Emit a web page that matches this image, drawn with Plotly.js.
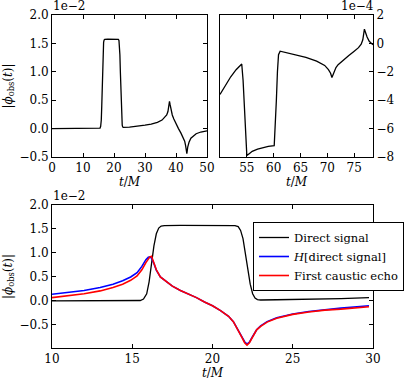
<!DOCTYPE html>
<html>
<head>
<meta charset="utf-8">
<script src="https://cdn.plot.ly/plotly-3.0.1.min.js"></script>
<style>
  html, body { margin: 0; padding: 0; background: #fff; }
  #chart { width: 415px; height: 381px; }
</style>
</head>
<body>
<div id="chart"></div>
<script>
// --- data (values in units of the axis multiplier) --------------------------

// top left: direct signal, 0 < t/M < 50, units 1e-2
const TL_T = [0, 5, 10, 15, 15.3, 15.5, 15.7, 15.9, 16.05, 16.2, 16.35, 16.5, 16.65, 16.8, 17, 18, 20, 21.4,
  21.6, 21.75, 21.9, 22.05, 22.2, 22.35, 22.5, 22.65, 22.8, 23, 25, 28, 30, 32, 34, 35.5, 36.5, 37.0, 37.4,
  37.7, 37.9, 38.1, 38.4, 38.8, 39.3, 40, 40.8, 41.6, 42.3, 42.8, 43.1, 43.3, 43.5, 43.8, 44.2, 44.8, 45.5,
  46.5, 48, 50];
const TL_V = [0, 0, 0, 0, 0, 0.01, 0.04, 0.15, 0.40, 0.78, 1.15, 1.40, 1.52, 1.56, 1.57, 1.575, 1.575, 1.57,
  1.55, 1.47, 1.3, 1.0, 0.65, 0.35, 0.15, 0.06, 0.03, 0.02, 0.025, 0.04, 0.06, 0.08, 0.11, 0.15, 0.2, 0.24, 0.3,
  0.38, 0.48, 0.42, 0.32, 0.24, 0.17, 0.08, 0.0, -0.08, -0.15, -0.22, -0.3, -0.38, -0.44, -0.32, -0.24, -0.17,
  -0.13, -0.09, -0.06, -0.04];

// top right: direct signal, 50 < t/M < 78.5, units 1e-4
const TR_T = [50, 51, 52, 53, 53.6, 54.05, 54.3, 54.6, 54.85, 55, 55.5, 56, 57, 58, 59, 60.1, 60.3, 60.5,
  60.7, 60.9, 61.2, 62, 64, 66, 68, 69.5, 70.2, 70.6, 70.85, 71.0, 71.2, 71.6, 72, 73, 74, 75, 75.8, 76.3,
  76.6, 76.9, 77.1, 77.4, 77.8, 78.5];
const TR_V = [-3.6, -2.95, -2.35, -1.85, -1.6, -1.45, -2.6, -5.0, -7.2, -7.9, -7.75, -7.6, -7.45, -7.35, -7.25,
  -7.2, -6.0, -4.0, -2.0, -0.8, -0.55, -0.62, -0.78, -0.98, -1.25, -1.55, -1.85, -2.1, -2.4, -2.25, -1.95,
  -1.7, -1.5, -1.15, -0.85, -0.55, -0.3, -0.05, 0.25, 1.0, 0.75, 0.45, 0.15, -0.1];

// left-hand tick marks of the top right panel (no labels there)
const TR_LEFT_TICKS = [1.07, -0.57, -2.27, -3.94, -5.57, -7.28];

// bottom: 10 < t/M < 30, units 1e-2
const B_T_DIRECT = [10, 15.3, 15.5, 15.7, 15.9, 16.05, 16.2, 16.35, 16.5, 16.65, 16.8, 17.0, 18, 20, 21.4, 21.6,
  21.75, 21.9, 22.05, 22.2, 22.35, 22.5, 22.65, 22.8, 23.0, 24, 26, 28, 29.75];
const B_DIRECT = [0, 0, 0.01, 0.04, 0.15, 0.40, 0.78, 1.15, 1.40, 1.52, 1.56, 1.57, 1.575, 1.575, 1.57, 1.55,
  1.47, 1.3, 1.0, 0.65, 0.35, 0.15, 0.06, 0.03, 0.02, 0.025, 0.035, 0.05, 0.07];

const B_T = [10, 11, 12, 13, 13.8, 14.4, 14.9, 15.3, 15.6, 15.85, 16.0, 16.1, 16.2, 16.35, 16.5, 16.75, 17.0, 17.5,
  18, 18.5, 19, 19.5, 20, 20.5, 21, 21.3, 21.6, 21.85, 22.0, 22.15, 22.3, 22.5, 22.75, 23.0, 23.4, 24, 25, 26,
  27, 28, 29, 29.75];
const B_HILBERT = [0.14, 0.18, 0.22, 0.28, 0.35, 0.42, 0.50, 0.59, 0.72, 0.86, 0.91, 0.92, 0.89, 0.78, 0.64, 0.50,
  0.43, 0.31, 0.22, 0.15, 0.07, -0.02, -0.10, -0.20, -0.32, -0.43, -0.60, -0.76, -0.85, -0.90, -0.86, -0.74,
  -0.60, -0.52, -0.43, -0.35, -0.27, -0.22, -0.18, -0.15, -0.12, -0.10];
const B_ECHO = [0.07, 0.11, 0.15, 0.21, 0.28, 0.35, 0.43, 0.52, 0.65, 0.80, 0.88, 0.92, 0.93, 0.80, 0.65, 0.50,
  0.43, 0.31, 0.22, 0.15, 0.07, -0.02, -0.10, -0.20, -0.32, -0.43, -0.60, -0.77, -0.87, -0.92, -0.87, -0.74,
  -0.60, -0.53, -0.44, -0.36, -0.28, -0.23, -0.19, -0.17, -0.14, -0.12];

const LEGEND_NAMES = ["Direct signal", "<i>H</i>[direct signal]", "First caustic echo"];

(function () {
  "use strict";

  const W = 415, H = 381;
  const FONT = { family: "DejaVu Serif, serif", size: 12, color: "#000" };
  const XT = "<i>t</i>/<i>M</i>";
  const YT = "|<i>ϕ</i><sub>obs</sub>(<i>t</i>)|";

  // pixel boxes -> paper fractions
  const px = (a, b) => [a / W, b / W];
  const py = (top, bottom) => [1 - bottom / H, 1 - top / H];

  function axis(extra) {
    return Object.assign({
      showline: true, linecolor: "#000", linewidth: 1, mirror: "allticks",
      ticks: "inside", ticklen: 4, tickcolor: "#000", tickwidth: 1,
      showgrid: false, zeroline: false, automargin: false, tickfont: FONT,
    }, extra);
  }

  const black = { color: "#000", width: 1.3 };

  const traces = [
    { x: TL_T, y: TL_V, xaxis: "x", yaxis: "y", mode: "lines", line: black, showlegend: false },
    { x: TR_T, y: TR_V, xaxis: "x2", yaxis: "y2", mode: "lines", line: black, showlegend: false },
    { x: B_T_DIRECT, y: B_DIRECT, xaxis: "x3", yaxis: "y3", mode: "lines", line: black, name: LEGEND_NAMES[0] },
    { x: B_T, y: B_HILBERT, xaxis: "x3", yaxis: "y3", mode: "lines", line: { color: "#0000ff", width: 1.6 }, name: LEGEND_NAMES[1] },
    { x: B_T, y: B_ECHO, xaxis: "x3", yaxis: "y3", mode: "lines", line: { color: "#ff0000", width: 1.6 }, name: LEGEND_NAMES[2] },
  ];

  const layout = {
    width: W, height: H,
    margin: { l: 0, r: 0, t: 0, b: 0 },
    paper_bgcolor: "#fff", plot_bgcolor: "#fff",
    font: FONT,
    showlegend: true,
    legend: {
      x: 253 / W, y: 1 - 222 / H, xanchor: "left", yanchor: "top",
      bgcolor: "#fff", bordercolor: "#000", borderwidth: 1,
      font: { family: FONT.family, size: 11.5, color: "#000" },
      tracegroupgap: 0, itemwidth: 30,
    },
    xaxis: axis({ domain: px(52, 207), range: [0, 50], dtick: 10, anchor: "y",
      title: { text: XT, font: FONT, standoff: 3 } }),
    yaxis: axis({ domain: py(15, 157), range: [-0.5, 2.0], dtick: 0.5, tickformat: ".1f", anchor: "x",
      title: { text: YT, font: FONT, standoff: 4 } }),
    xaxis2: axis({ domain: px(220, 373), range: [50, 78.5], tickvals: [55, 60, 65, 70, 75], anchor: "y2",
      title: { text: XT, font: FONT, standoff: 3 } }),
    yaxis2: axis({ domain: py(15, 157), range: [-8, 2], dtick: 2, side: "right", mirror: true, anchor: "x2" }),
    yaxis4: axis({ overlaying: "y2", range: [-8, 2], side: "left", anchor: "x2", mirror: false,
      showline: false, tickvals: TR_LEFT_TICKS, showticklabels: false }),
    xaxis3: axis({ domain: px(52, 373), range: [10, 30], dtick: 5, anchor: "y3",
      title: { text: XT, font: FONT, standoff: 3 } }),
    yaxis3: axis({ domain: py(205, 348), range: [-0.98, 2.0], tickvals: [-0.5, 0, 0.5, 1, 1.5, 2],
      tickformat: ".1f", anchor: "x3", title: { text: YT, font: FONT, standoff: 4 } }),
    annotations: [
      { text: "1e−2", xref: "paper", yref: "paper", x: 52 / W, y: 1 - 14 / H, xanchor: "left", yanchor: "bottom",
        showarrow: false, font: FONT, borderpad: 0 },
      { text: "1e−4", xref: "paper", yref: "paper", x: 375 / W, y: 1 - 14 / H, xanchor: "right", yanchor: "bottom",
        showarrow: false, font: FONT, borderpad: 0 },
      { text: "1e−2", xref: "paper", yref: "paper", x: 52 / W, y: 1 - 204 / H, xanchor: "left", yanchor: "bottom",
        showarrow: false, font: FONT, borderpad: 0 },
    ],
  };

  Plotly.newPlot("chart", traces, layout, { displayModeBar: false, staticPlot: true });
})();
</script>
</body>
</html>
